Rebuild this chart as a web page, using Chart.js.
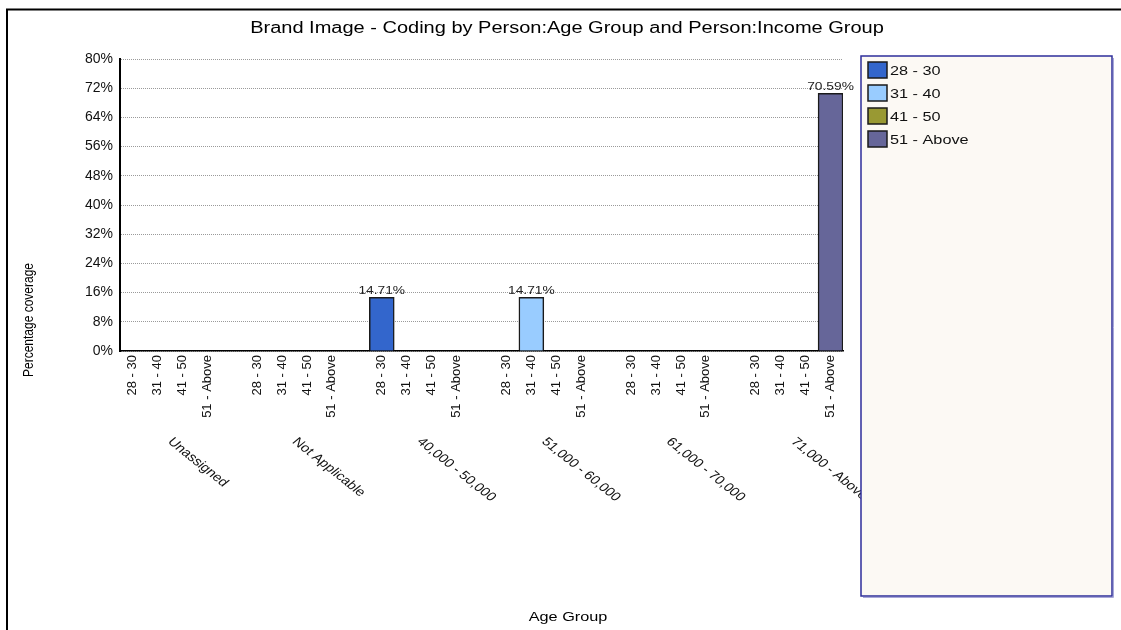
<!DOCTYPE html>
<html>
<head>
<meta charset="utf-8">
<title>Brand Image - Coding by Person:Age Group and Person:Income Group</title>
<script src="https://cdn.jsdelivr.net/npm/chart.js@4/dist/chart.umd.min.js"></script>
<style>
  html, body { margin: 0; padding: 0; background: #ffffff; }
  #wrap { position: relative; width: 1121px; height: 630px; }
</style>
</head>
<body>
<div id="wrap"><canvas id="chart" width="1121" height="630"></canvas></div>
<script>
// Income groups (outer category) and age groups (inner category / series)
const incomeGroups = ['Unassigned', 'Not Applicable', '40,000 - 50,000', '51,000 - 60,000', '61,000 - 70,000', '71,000 - Above'];
const ageGroups = ['28 - 30', '31 - 40', '41 - 50', '51 - Above'];

// Percentage coverage per income group, one array per age group
const share28to30  = [0, 0, 14.71, 0, 0, 0];
const share31to40  = [0, 0, 0, 14.71, 0, 0];
const share41to50  = [0, 0, 0, 0, 0, 0];
const share51Above = [0, 0, 0, 0, 0, 70.59];

const seriesColors = ['#3366CC', '#99CCFF', '#999933', '#666699'];
const yTickValues = [0, 8, 16, 24, 32, 40, 48, 56, 64, 72, 80];

const FONT = '"Liberation Sans", Arial, sans-serif';
const TEXT_STRETCH = 1.25;   // wide, horizontally stretched lettering
const seriesValues = [share28to30, share31to40, share41to50, share51Above];

// Flat axis: four age slots per income group, with an empty slot between groups
const slotLabels = [];
const groupSlots = [];
incomeGroups.forEach((g, gi) => {
  groupSlots.push(slotLabels.length);
  ageGroups.forEach(a => slotLabels.push(a));
  if (gi < incomeGroups.length - 1) slotLabels.push('');
});

const datasets = ageGroups.map((age, ai) => {
  const data = slotLabels.map(() => null);
  seriesValues[ai].forEach((v, gi) => {
    if (v) data[groupSlots[gi] + ai] = v;
  });
  return {
    label: age,
    data,
    backgroundColor: seriesColors[ai],
    borderColor: '#1a1a1a',
    borderWidth: 1.5,
    borderSkipped: 'bottom',
    grouped: false,
    barPercentage: 1,
    categoryPercentage: 1
  };
});

function wideText(ctx, text, x, y, opts) {
  ctx.save();
  ctx.translate(x, y);
  ctx.scale(TEXT_STRETCH, 1);
  if (opts.angle) ctx.rotate(opts.angle);
  ctx.font = opts.size + 'px ' + FONT;
  ctx.fillStyle = opts.color || '#111';
  ctx.textAlign = opts.align || 'left';
  ctx.textBaseline = opts.baseline || 'middle';
  ctx.fillText(text, 0, 0);
  ctx.restore();
}

// Frame, titles, value labels, income group labels and legend box
const decorations = {
  id: 'decorations',
  afterDraw(chart) {
    const ctx = chart.ctx;
    const xs = chart.scales.x;
    ctx.save();

    // outer frame (top and left edges)
    ctx.strokeStyle = '#000';
    ctx.lineWidth = 2;
    ctx.beginPath();
    ctx.moveTo(1121, 9.5);
    ctx.lineTo(7, 9.5);
    ctx.lineTo(7, 630);
    ctx.stroke();

    // chart title and axis titles
    wideText(ctx, 'Brand Image - Coding by Person:Age Group and Person:Income Group', 567, 29,
      { size: 16, align: 'center', color: '#000' });
    wideText(ctx, 'Age Group', 568, 617, { size: 13, align: 'center', color: '#000' });
    wideText(ctx, 'Percentage coverage', 29, 320,
      { size: 12, align: 'center', color: '#000', angle: -Math.PI / 2 });

    // value labels above bars
    chart.data.datasets.forEach((ds, di) => {
      chart.getDatasetMeta(di).data.forEach((bar, i) => {
        const v = ds.data[i];
        if (v == null) return;
        wideText(ctx, v.toFixed(2) + '%', bar.x, bar.y - 1,
          { size: 11, align: 'center', baseline: 'bottom', color: '#222' });
      });
    });

    // income group labels, slanted under each group
    incomeGroups.forEach((g, gi) => {
      const first = xs.getPixelForValue(groupSlots[gi]);
      const last = xs.getPixelForValue(groupSlots[gi] + ageGroups.length - 1);
      wideText(ctx, g, (first + last) / 2, 440,
        { size: 12, color: '#111', angle: Math.PI / 4 });
    });

    // legend box
    const lx = 861, ly = 56, lw = 251, lh = 540;
    ctx.fillStyle = '#FCF9F4';
    ctx.fillRect(lx, ly, lw, lh);
    ctx.strokeStyle = '#A8A8D8';
    ctx.lineWidth = 1;
    ctx.beginPath();
    ctx.moveTo(lx + lw + 1.5, ly + 2);
    ctx.lineTo(lx + lw + 1.5, ly + lh + 1.5);
    ctx.lineTo(lx + 2, ly + lh + 1.5);
    ctx.stroke();
    ctx.strokeStyle = '#2E2E9A';
    ctx.lineWidth = 1.5;
    ctx.strokeRect(lx, ly, lw, lh);

    chart.data.datasets.forEach((ds, di) => {
      const y = 70 + di * 23;
      ctx.fillStyle = ds.backgroundColor;
      ctx.fillRect(868, y - 8, 19, 16);
      ctx.strokeStyle = '#1a1a1a';
      ctx.lineWidth = 1.5;
      ctx.strokeRect(868, y - 8, 19, 16);
      wideText(ctx, ds.label, 890, y + 1, { size: 13, color: '#111' });
    });

    ctx.restore();
  }
};

new Chart(document.getElementById('chart'), {
  type: 'bar',
  data: { labels: slotLabels, datasets },
  options: {
    responsive: false,
    animation: false,
    events: [],
    layout: { padding: { left: 0, top: 59, right: 278, bottom: 0 } },
    plugins: {
      legend: { display: false },
      title: { display: false },
      tooltip: { enabled: false }
    },
    scales: {
      x: {
        grid: { display: false, drawTicks: false },
        border: { display: true, color: '#000', width: 1.5 },
        ticks: {
          autoSkip: false,
          minRotation: 90,
          maxRotation: 90,
          padding: 4,
          color: '#111',
          font: { family: FONT, size: 13 }
        },
        afterFit(scale) { scale.height = 630 - 351; }
      },
      y: {
        min: 0,
        max: 80,
        afterBuildTicks(scale) { scale.ticks = yTickValues.map(v => ({ value: v })); },
        grid: {
          color: '#9a9a9a',
          lineWidth: 1,
          drawTicks: false
        },
        border: { display: true, color: '#000', width: 2, dash: [1, 1] },
        ticks: {
          padding: 7,
          color: '#111',
          font: { family: FONT, size: 14 },
          callback: v => v + '%'
        },
        afterFit(scale) { scale.width = 120; }
      }
    }
  },
  plugins: [decorations]
});
</script>
</body>
</html>
